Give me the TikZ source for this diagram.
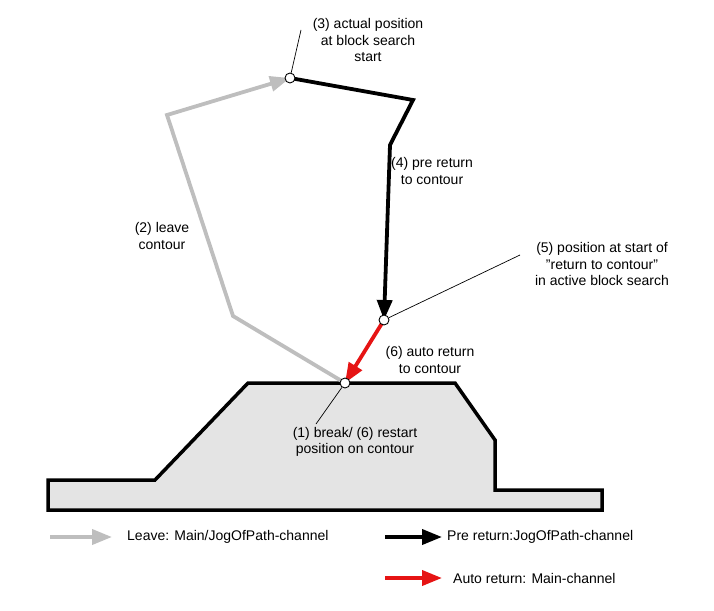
\documentclass[tikz,border=0pt]{standalone}
\usepackage{fontspec}
\setmainfont{Liberation Sans}
\usetikzlibrary{arrows.meta}
\begin{document}
\begin{tikzpicture}[x=1pt,y=-1pt,
  lbl/.style={font=\fontsize{14}{16.5}\selectfont,align=center,inner sep=1pt},
  path/.style={line width=3.8pt,line join=miter},
  tip/.style={-{Triangle[length=20pt,width=15pt]}},
  pt/.style={circle,draw,fill=white,line width=0.9pt,inner sep=0pt,minimum size=10pt},
  lead/.style={line width=0.7pt}]
\useasboundingbox (0,0) rectangle (714,610);
\definecolor{lgray}{RGB}{190,190,190}
\definecolor{cfill}{RGB}{228,228,228}
\definecolor{ared}{RGB}{230,20,20}
\draw[line width=3.5pt,fill=cfill] (48,510) -- (48,480) -- (155,480) -- (248,383) -- (455,383) -- (495,440) -- (495,490) -- (602,490) -- (602,510) -- cycle;
\coordinate (p1) at (345,383);
\coordinate (p3) at (290,78);
\coordinate (p5) at (384,320);
\coordinate (g1) at (233,316);
\coordinate (g2) at (167,115);
\coordinate (b1) at (413,100);
\coordinate (b2) at (390,145);
\draw[path,lgray,tip] (p1) -- (g1) -- (g2) -- (p3);
\draw[path,black,tip] (p3) -- (b1) -- (b2) -- (p5);
\draw[path,ared,tip] (p5) -- (p1);
\node[lbl,anchor=south] (t3) at (368,63) {(3) actual position\\at block search\\start};
\node[lbl] (t2) at (162,236) {(2) leave\\contour};
\node[lbl,anchor=west] (t4) at (390,171) {(4) pre return\\to contour};
\node[lbl] (t5) at (602,264) {(5) position at start of\\"return to contour"\\in active block search};
\node[lbl] (t6) at (430,360) {(6) auto return\\to contour};
\node[lbl] (t1) at (355,442) {(1) break/ (6) restart\\position on contour};
\coordinate (l3) at (301,30);
\coordinate (l5) at (520,255);
\coordinate (l1) at (316,424);
\node[pt] (c3) at (p3) {};
\node[pt] (c5) at (p5) {};
\node[pt] (c1) at (p1) {};
\draw[lead] (c3) -- (l3);
\draw[lead] (c5) -- (l5);
\draw[lead] (c1) -- (l1);
\coordinate (a1) at (50,537); \coordinate (a2) at (112,537);
\coordinate (a3) at (385,537); \coordinate (a4) at (442,537);
\coordinate (a5) at (385,578); \coordinate (a6) at (442,578);
\draw[path,lgray,tip] (a1) -- (a2);
\draw[path,black,tip] (a3) -- (a4);
\draw[path,ared,tip] (a5) -- (a6);
\node[lbl,anchor=west] (e1) at (126,537) {Leave: Main/JogOfPath-channel};
\node[lbl,anchor=west] (e2) at (446,537) {Pre return:JogOfPath-channel};
\node[lbl,anchor=west] (e3) at (452,578) {Auto return: Main-channel};
\end{tikzpicture}
\end{document}
